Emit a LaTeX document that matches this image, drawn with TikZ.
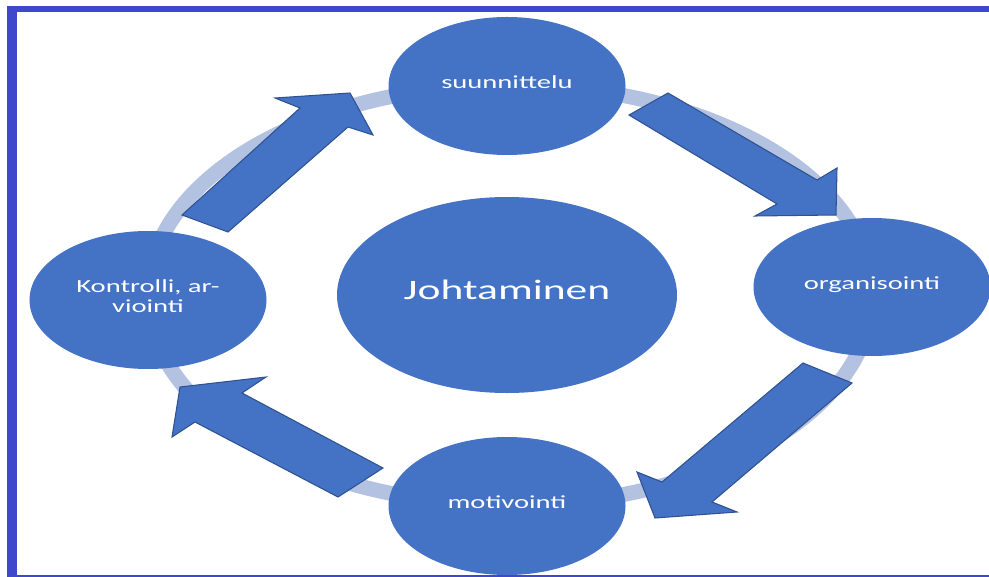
\documentclass[tikz,border=0pt]{standalone}
\usepackage{fontspec}
\usepackage{tikz}
\usetikzlibrary{shapes.geometric}
\newfontfamily\lblfont{Carlito}[FakeStretch=1.55]
\definecolor{nodeblue}{HTML}{4472C4}
\definecolor{edgeblue}{HTML}{2F528F}
\definecolor{ringblue}{HTML}{B4C2E2}
\definecolor{frameblue}{HTML}{3F48CC}
\tikzset{
  phase/.style={ellipse,fill=nodeblue,text=white,inner sep=0pt,align=center,
    minimum width=4.74cm,minimum height=2.76cm,text depth=0.16cm,
    font=\lblfont\fontsize{10.5}{11.5}\selectfont},
  core/.style={phase,minimum width=6.8cm,minimum height=3.92cm,text depth=0.2cm,
    font=\lblfont\fontsize{16}{19}\selectfont},
  blockarrow/.style={fill=nodeblue,draw=edgeblue,line width=0.6pt,line join=miter}
}

\begin{document}
\begin{tikzpicture}[x=0.2mm,y=-0.2mm]
  \useasboundingbox (0,0) rectangle (989,577);
  \fill[frameblue] (7,6) rectangle (989,12);
  \fill[frameblue] (7,6) rectangle (17,577);
  \fill[frameblue] (17,575) rectangle (989,577);
  \coordinate (O) at (510,295);
  \draw[ringblue,line width=3mm] (O) ellipse [x radius=362,y radius=210];
  \node[core] (johto) at (507,295) {Johtaminen};
  \node[phase] (suunn) at (507,86) {suunnittelu};
  \node[phase] (organ) at (872,287) {organisointi};
  \node[phase] (motiv) at (507,506) {motivointi};
  \node[phase] (kontr) at (148,300) {Kontrolli, ar-\\viointi};
  \draw[blockarrow] (182,215) -- (300,108) -- (275,98) -- (350,93)
    -- (373,135) -- (348,127) -- (228,232) -- cycle;
  \draw[blockarrow] (668,93) -- (817,180) -- (837,168) -- (836,215)
    -- (755,216) -- (777,204) -- (629,115) -- cycle;
  \draw[blockarrow] (852,383) -- (712,502) -- (737,512) -- (655,518)
    -- (637,472) -- (662,482) -- (803,363) -- cycle;
  \draw[blockarrow] (383,468) -- (242,393) -- (266,377) -- (180,387)
    -- (172,437) -- (195,422) -- (338,497) -- cycle;
\end{tikzpicture}
\end{document}
